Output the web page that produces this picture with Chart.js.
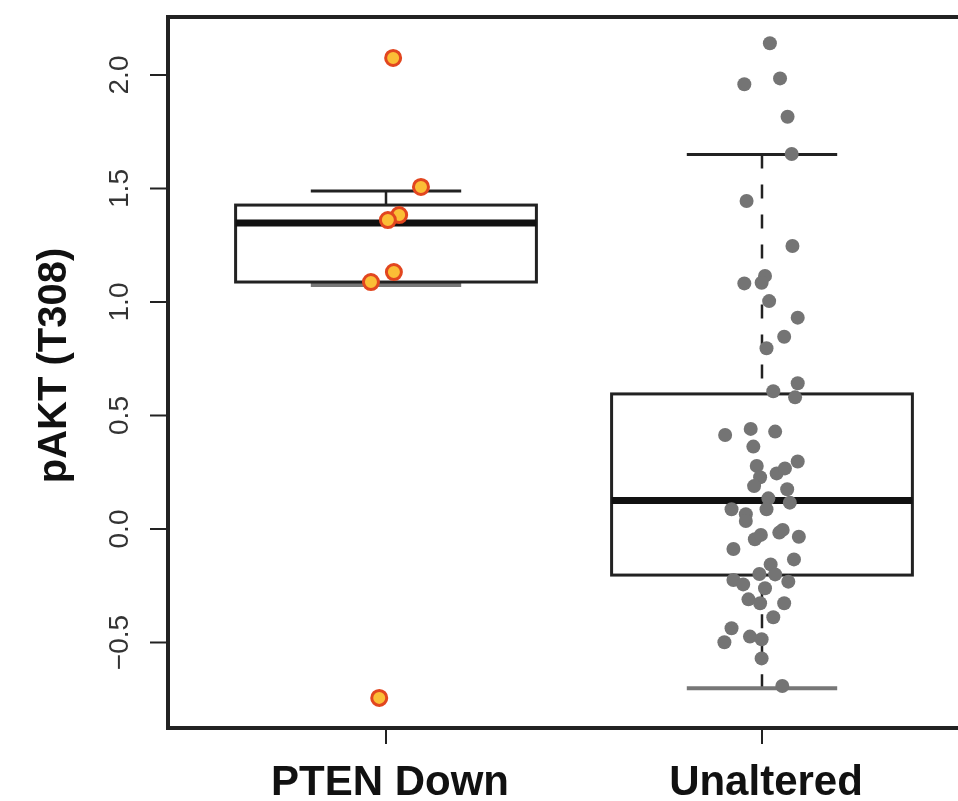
<!DOCTYPE html>
<html>
<head>
<meta charset="utf-8">
<script src="https://cdn.jsdelivr.net/npm/chart.js@4/dist/chart.umd.min.js"></script>
<style>
  html, body { margin: 0; padding: 0; background: #fff; overflow: hidden; }
  #wrap { width: 958px; height: 801px; }
</style>
</head>
<body>
<div id="wrap"><canvas id="chart" width="958" height="801"></canvas></div>
<script>
// Categories and axis ticks
const categories = ["PTEN Down", "Unaltered"];
const yTicks = [-0.5, 0, 0.5, 1, 1.5, 2];

// Box statistics, one entry per category
const whiskerLow = [1.075, -0.702];
const boxQ1 = [1.088, -0.203];
const boxMedian = [1.348, 0.125];
const boxQ3 = [1.427, 0.595];
const whiskerHigh = [1.489, 1.650];

// PTEN Down samples + horizontal jitter
const ptenValues = [2.075, 1.507, 1.383, 1.361, 1.132, 1.088, -0.744];
const ptenJitter = [0.019, 0.093, 0.035, 0.005, 0.021, -0.040, -0.018];

// Unaltered samples + horizontal jitter
const unalteredValues = [
  2.140, 1.959, 1.985, 1.816, 1.652, 1.445, 1.247, 1.082, 1.115, 1.085,
  1.004, 0.931, 0.847, 0.796, 0.642, 0.607, 0.580, 0.414, 0.441, 0.429,
  0.363, 0.278, 0.245, 0.267, 0.297, 0.228, 0.189, 0.175, 0.135, 0.116,
  0.087, 0.087, 0.065, 0.035, -0.045, -0.026, -0.016, -0.004, -0.034, -0.088,
  -0.134, -0.156, -0.198, -0.200, -0.225, -0.244, -0.261, -0.232, -0.310, -0.327,
  -0.327, -0.389, -0.437, -0.499, -0.474, -0.486, -0.570, -0.692
];
const unalteredJitter = [
  0.021, -0.047, 0.048, 0.068, 0.079, -0.041, 0.081, -0.047, 0.008, -0.001,
  0.019, 0.095, 0.059, 0.012, 0.095, 0.030, 0.088, -0.098, -0.030, 0.035,
  -0.023, -0.014, 0.039, 0.061, 0.095, -0.005, -0.021, 0.067, 0.017, 0.074,
  0.012, -0.081, -0.043, -0.043, -0.019, -0.003, 0.046, 0.055, 0.098, -0.076,
  0.085, 0.023, -0.007, 0.035, -0.076, -0.050, 0.008, 0.070, -0.036, -0.005,
  0.059, 0.030, -0.081, -0.100, -0.032, -0.001, -0.001, 0.054
];

const toPoints = (vals, jit, idx) => vals.map((v, i) => ({ x: idx + 1 + jit[i], y: v }));

// Box, whiskers and axes drawn through the chart's scales
const boxPlugin = {
  id: "boxes",
  beforeDatasetsDraw(chart) {
    const { ctx, scales: { x, y } } = chart;
    const halfBox = 0.4, halfCap = 0.2;
    ctx.save();
    categories.forEach((c, i) => {
      const cx = x.getPixelForValue(i + 1);
      const l = x.getPixelForValue(i + 1 - halfBox), r = x.getPixelForValue(i + 1 + halfBox);
      const cl = x.getPixelForValue(i + 1 - halfCap), cr = x.getPixelForValue(i + 1 + halfCap);
      const yq1 = y.getPixelForValue(boxQ1[i]), yq3 = y.getPixelForValue(boxQ3[i]);
      const ymed = y.getPixelForValue(boxMedian[i]);
      const ylo = y.getPixelForValue(whiskerLow[i]), yhi = y.getPixelForValue(whiskerHigh[i]);

      // whiskers (dashed)
      ctx.strokeStyle = "#222";
      ctx.lineWidth = 2.5;
      ctx.setLineDash([14, 16]);
      ctx.beginPath();
      ctx.moveTo(cx, yhi); ctx.lineTo(cx, yq3);
      ctx.moveTo(cx, ylo); ctx.lineTo(cx, yq1);
      ctx.stroke();
      ctx.setLineDash([]);

      // caps
      ctx.lineWidth = 3;
      ctx.strokeStyle = "#222";
      ctx.beginPath(); ctx.moveTo(cl, yhi); ctx.lineTo(cr, yhi); ctx.stroke();
      ctx.strokeStyle = "#777";
      ctx.lineWidth = 4;
      ctx.beginPath(); ctx.moveTo(cl, ylo); ctx.lineTo(cr, ylo); ctx.stroke();

      // box
      ctx.strokeStyle = "#222";
      ctx.lineWidth = 3;
      ctx.strokeRect(l, yq3, r - l, yq1 - yq3);

      // median
      ctx.strokeStyle = "#111";
      ctx.lineWidth = 7;
      ctx.beginPath(); ctx.moveTo(l, ymed); ctx.lineTo(r, ymed); ctx.stroke();
    });
    ctx.restore();
  },
  afterDraw(chart) {
    const { ctx, chartArea: a, scales: { x, y } } = chart;
    ctx.save();
    // frame (right side falls outside the image)
    ctx.strokeStyle = "#222";
    ctx.lineWidth = 4;
    ctx.beginPath();
    ctx.moveTo(a.right + 5, a.top);
    ctx.lineTo(a.left, a.top);
    ctx.lineTo(a.left, a.bottom);
    ctx.lineTo(a.right + 5, a.bottom);
    ctx.stroke();

    // y ticks + labels
    ctx.lineWidth = 2;
    ctx.fillStyle = "#333";
    ctx.font = "28px 'Liberation Sans', Arial, sans-serif";
    ctx.textAlign = "center";
    ctx.textBaseline = "alphabetic";
    yTicks.forEach(t => {
      const py = y.getPixelForValue(t);
      ctx.beginPath(); ctx.moveTo(a.left - 18, py); ctx.lineTo(a.left, py); ctx.stroke();
      ctx.save();
      ctx.translate(a.left - 40, py);
      ctx.rotate(-Math.PI / 2);
      ctx.fillText(t.toFixed(1).replace("-", "\u2212"), 0, 0);
      ctx.restore();
    });

    // x ticks + labels
    ctx.fillStyle = "#111";
    ctx.font = "bold 42px 'Liberation Sans', Arial, sans-serif";
    categories.forEach((c, i) => {
      const px = x.getPixelForValue(i + 1);
      ctx.beginPath(); ctx.moveTo(px, a.bottom); ctx.lineTo(px, a.bottom + 16); ctx.stroke();
      ctx.fillText(c, px + 4, a.bottom + 67);
    });

    // y title
    ctx.save();
    ctx.font = "bold 40px 'Liberation Sans', Arial, sans-serif";
    ctx.translate(66, (a.top + a.bottom) / 2 - 7);
    ctx.rotate(-Math.PI / 2);
    ctx.fillText("pAKT (T308)", 0, 0);
    ctx.restore();
    ctx.restore();
  }
};

new Chart(document.getElementById("chart"), {
  type: "scatter",
  data: {
    datasets: [
      {
        label: categories[1],
        data: toPoints(unalteredValues, unalteredJitter, 1),
        backgroundColor: "#747474",
        borderColor: "#747474",
        borderWidth: 0,
        pointRadius: 7
      },
      {
        label: categories[0],
        data: toPoints(ptenValues, ptenJitter, 0),
        backgroundColor: "#FBBE36",
        borderColor: "#E2461F",
        borderWidth: 3,
        pointRadius: 7.5
      }
    ]
  },
  options: {
    responsive: false,
    animation: false,
    layout: { autoPadding: false, padding: { left: 168, top: 17, right: 0, bottom: 73 } },
    plugins: { legend: { display: false }, tooltip: { enabled: false } },
    scales: {
      x: { type: "linear", display: false, min: 0.4202, max: 2.5213 },
      y: { type: "linear", display: false, min: -0.8767, max: 2.2555 }
    }
  },
  plugins: [boxPlugin]
});
</script>
</body>
</html>
